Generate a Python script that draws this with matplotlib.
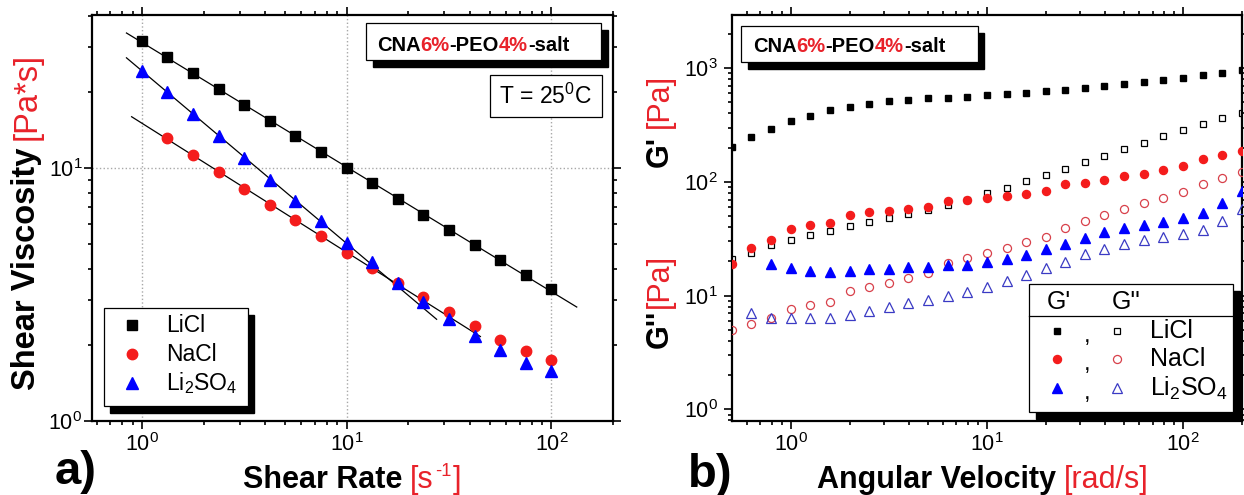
import matplotlib
matplotlib.use('Agg')
import matplotlib.pyplot as plt
import matplotlib.transforms as mtransforms
from matplotlib.patches import Rectangle
from matplotlib.ticker import NullFormatter
import numpy as np

plt.rcParams['font.family'] = 'Liberation Sans'
plt.rcParams['mathtext.fontset'] = 'custom'
plt.rcParams['mathtext.rm'] = 'Liberation Sans'
plt.rcParams['mathtext.it'] = 'Liberation Sans:italic'
plt.rcParams['mathtext.bf'] = 'Liberation Sans:bold'

RED = '#e8222a'
MRED = '#f41c1c'
BLUE = '#0000ff'
ORED = '#d8404a'
OBLUE = '#3a3ac4'

# ---- a) steady shear viscosity
rate = [1, 1.33, 1.78, 2.37, 3.16, 4.22, 5.62, 7.5, 10, 13.3, 17.8,
        23.7, 31.6, 42.2, 56.2, 75, 100]
eta_licl = [31.8, 27.5, 23.7, 20.5, 17.8, 15.4, 13.4, 11.6, 10.0, 8.72,
            7.52, 6.54, 5.67, 4.95, 4.32, 3.79, 3.32]
rate_nacl = rate[1:]
eta_nacl = [13.2, 11.3, 9.62, 8.28, 7.12, 6.21, 5.37, 4.63, 4.03, 3.51,
            3.09, 2.70, 2.37, 2.10, 1.90, 1.75]
eta_li2so4 = [24.3, 20.0, 16.4, 13.4, 11.0, 9.0, 7.43, 6.15, 5.07, 4.25,
              3.52, 2.95, 2.52, 2.16, 1.91, 1.70, 1.58]

# ---- b) oscillatory moduli
omega = [0.5, 0.63, 0.79, 1.0, 1.26, 1.58, 2.0, 2.51, 3.16, 3.98, 5.01,
         6.31, 7.94, 10, 12.6, 15.8, 20, 25.1, 31.6, 39.8, 50.1, 63.1,
         79.4, 100, 126, 158, 200]
gp_licl = [201, 247, 294, 342, 384, 426, 459, 481, 515, 526, 544, 552, 563,
           583, 595, 611, 637, 650, 673, 696, 721, 756, 782, 815, 866, 915, 972]
gpp_licl = [21.2, 23.5, 27.9, 30.9, 34.4, 37.1, 40.8, 44.4, 47.9, 52.3, 56.8,
            63.3, 69, 79.8, 89, 101, 115, 131, 151, 170, 195, 219, 252, 288,
            324, 364, 406]
gp_nacl = [19.1, 26.2, 30.9, 38.4, 41.7, 43.5, 51.5, 54.1, 56, 57.5, 60.7,
           67.8, 69.7, 72.1, 75.1, 78.8, 83.2, 95.3, 98.7, 105, 112, 118, 127,
           138, 158, 174, 188]
gpp_nacl = [4.98, 5.6, 6.3, 7.7, 8.3, 8.8, 11.0, 12.0, 13.0, 14.2, 15.7, 19.3,
            21.5, 23.8, 26.3, 29.5, 32.6, 39.7, 45.6, 51.2, 57.9, 65, 72.6,
            81.5, 96.6, 109, 123]
gp_li2so4 = [np.nan, np.nan, 18.8, 17.6, 16.4, 16.0, 16.5, 17.0, 17.3, 17.7,
             17.9, 18.5, 18.7, 19.7, 20.9, 22.7, 25.7, 28.6, 32.4, 36.4, 39,
             41.7, 44.7, 48.1, 53.7, 65, 83]
gpp_li2so4 = [np.nan, 6.99, 6.31, 6.39, 6.31, 6.31, 6.75, 7.37, 7.89, 8.56,
              9.15, 9.93, 10.8, 12.0, 13.4, 15.2, 17.4, 19.9, 23.2, 25.5, 28.3,
              30.7, 32.8, 34.7, 37.9, 45.6, 58]

W, H = 1244, 495
fig = plt.figure(figsize=(W / 100, H / 100), dpi=100)
axa = fig.add_axes([92 / W, 74 / H, 521 / W, 406 / H])
axb = fig.add_axes([732 / W, 74 / H, 510 / W, 406 / H])


def style(ax, ypad):
    ax.set_xscale('log')
    ax.set_yscale('log')
    for s in ax.spines.values():
        s.set_linewidth(1.6)
    ax.tick_params(which='both', direction='out', top=True, right=True,
                   labelsize=15.5, width=1.2)
    ax.tick_params(which='major', length=5.5)
    ax.tick_params(which='minor', length=3)
    ax.tick_params(axis='x', pad=3.5)
    ax.tick_params(axis='y', pad=ypad)
    ax.xaxis.set_minor_formatter(NullFormatter())
    ax.yaxis.set_minor_formatter(NullFormatter())


def color_text(x, y, parts, transform, rotation=0, fontsize=12, **kw):
    """Draw consecutive text pieces; each part is
    (text, colour, weight[, size factor, rise in px, gap after in px])."""
    renderer = fig.canvas.get_renderer()
    shift = 0.0
    for part in parts:
        s, color, weight = part[:3]
        scale, rise, gap = (list(part[3:]) + [1.0, 0.0, 0.0][len(part) - 3:])
        if rotation == 90:
            trans = mtransforms.offset_copy(transform, x=-rise, y=shift,
                                            units='dots')
        else:
            trans = mtransforms.offset_copy(transform, x=shift, y=rise,
                                            units='dots')
        t = fig.text(x, y, s, color=color, fontweight=weight,
                     fontsize=fontsize * scale, rotation=rotation,
                     transform=trans, **kw)
        ext = t.get_window_extent(renderer)
        shift += (ext.height if rotation == 90 else ext.width) + gap


def panel_box(ax, x0, y0, x1, y1, shadow=True, dx=0.012, dy=0.017):
    if shadow:
        ax.add_patch(Rectangle((x0 + dx, y0 - dy), x1 - x0, y1 - y0,
                               transform=ax.transAxes, fc='k', ec='k',
                               zorder=5, clip_on=False))
    ax.add_patch(Rectangle((x0, y0), x1 - x0, y1 - y0, transform=ax.transAxes,
                           fc='white', ec='k', lw=0.9, zorder=6, clip_on=False))


salt_parts = [('CNA', 'k', 'bold'), ('6%', RED, 'bold'), ('-PEO', 'k', 'bold'),
              ('4%', RED, 'bold'), ('-salt', 'k', 'bold')]

# ================= panel a =================
style(axa, 1.5)
axa.set_xlim(0.57, 200)
axa.set_ylim(1, 40.3)
axa.grid(True, which='major', ls=':', color='#a8a8a8', lw=1.0)

fits = [(rate, eta_licl, 0, 17, 0.84, 133),
        (rate_nacl, eta_nacl, 0, 10, 0.89, 45),
        (rate, eta_li2so4, 0, 9, 0.84, 27.5)]
for xs, ys, i0, i1, lo, hi in fits:
    p = np.polyfit(np.log10(xs[i0:i1]), np.log10(ys[i0:i1]), 1)
    xx = np.logspace(np.log10(lo), np.log10(hi), 60)
    axa.plot(xx, 10 ** np.polyval(p, np.log10(xx)), color='k', lw=0.9,
             zorder=2)

axa.plot(rate, eta_licl, 's', color='k', ms=7, zorder=3)
axa.plot(rate_nacl, eta_nacl, 'o', color=MRED, ms=7.5, zorder=3)
axa.plot(rate, eta_li2so4, '^', color=BLUE, ms=8.5, zorder=4)

# legend
panel_box(axa, 0.023, 0.037, 0.299, 0.278)
leg_rows = [('s', 'k', 7, 'LiCl'), ('o', MRED, 7.5, 'NaCl'),
            ('^', BLUE, 8.5, 'Li$_2$SO$_4$')]
for (m, c, ms, lab), yy in zip(leg_rows, [0.236, 0.165, 0.094]):
    axa.plot([0.077], [yy], m, color=c, ms=ms, transform=axa.transAxes,
             zorder=7, clip_on=False)
    axa.text(0.142, yy, lab, fontsize=16.5, va='center', ha='left',
             transform=axa.transAxes, zorder=7)

panel_box(axa, 0.526, 0.889, 0.977, 0.980, dx=0.013, dy=0.017)
color_text(0.547, 0.912, salt_parts, axa.transAxes, fontsize=14.5,
           va='baseline', ha='left', zorder=7)
panel_box(axa, 0.764, 0.749, 0.979, 0.852, shadow=False)
axa.text(0.871, 0.800, 'T = 25$^0$C', fontsize=16.5, ha='center',
         va='center', transform=axa.transAxes, zorder=7)

# ================= panel b =================
style(axb, 4.5)
axb.set_xlim(0.502, 200)
axb.set_ylim(0.79, 2940)

axb.plot(omega, gp_licl, 's', color='k', ms=5, zorder=3)
axb.plot(omega, gpp_licl, 's', mfc='none', mec='k', mew=0.9, ms=5, zorder=3)
axb.plot(omega, gp_nacl, 'o', color=MRED, ms=5.8, zorder=3)
axb.plot(omega, gpp_nacl, 'o', mfc='none', mec=ORED, mew=0.9, ms=5.8,
         zorder=3)
axb.plot(omega, gp_li2so4, '^', color=BLUE, ms=6.5, zorder=3)
axb.plot(omega, gpp_li2so4, '^', mfc='none', mec=OBLUE, mew=0.9, ms=6.5,
         zorder=3)

panel_box(axb, 0.018, 0.884, 0.482, 0.973, dx=0.013, dy=0.017)
color_text(0.041, 0.909, salt_parts, axb.transAxes, fontsize=14.5,
           va='baseline', ha='left', zorder=7)

# legend with G' / G'' header
panel_box(axb, 0.582, 0.022, 0.982, 0.337, dx=0.014, dy=0.017)
axb.plot([0.582, 0.982], [0.259, 0.259], color='k', lw=0.9,
         transform=axb.transAxes, zorder=7, clip_on=False)
axb.text(0.618, 0.293, "G'", fontsize=18, ha='left', va='center',
         transform=axb.transAxes, zorder=7)
axb.text(0.745, 0.293, "G''", fontsize=18, ha='left', va='center',
         transform=axb.transAxes, zorder=7)
rows_b = [('s', 'k', 'k', 5, 'LiCl'), ('o', MRED, ORED, 5.8, 'NaCl'),
          ('^', BLUE, OBLUE, 6.5, 'Li$_2$SO$_4$')]
for (m, cf, co, ms, lab), yy in zip(rows_b, [0.222, 0.152, 0.081]):
    axb.plot([0.637], [yy], m, color=cf, ms=ms, transform=axb.transAxes,
             zorder=7, clip_on=False)
    axb.text(0.696, yy - 0.012, ',', fontsize=17, ha='center', va='center',
             transform=axb.transAxes, zorder=7)
    axb.plot([0.755], [yy], m, mfc='none', mec=co, mew=0.9, ms=ms,
             transform=axb.transAxes, zorder=7, clip_on=False)
    axb.text(0.820, yy, lab, fontsize=18, ha='left', va='center',
             transform=axb.transAxes, zorder=7)

# ================= axis titles =================
fs = 22
color_text(243 / W, 7 / H,
           [('Shear Rate', 'k', 'bold', 1.0, 0, 8),
            ('[s', RED, 'normal', 1.0, 0, 1),
            ('-1', RED, 'normal', 0.6, 12, 1),
            (']', RED, 'normal')],
           fig.transFigure, fontsize=fs, ha='left', va='baseline')
color_text(27 / W, 105 / H,
           [('Shear Viscosity', 'k', 'bold', 1.07, 0, 8),
            ('[Pa*s]', RED, 'normal', 1.07)],
           fig.transFigure, rotation=90, fontsize=fs, ha='center',
           va='bottom')
color_text(817 / W, 7 / H,
           [('Angular Velocity', 'k', 'bold', 1.0, 0, 8),
            ('[rad/s]', RED, 'normal')],
           fig.transFigure, fontsize=fs, ha='left', va='baseline')
color_text(660 / W, 328 / H,
           [("G'", 'k', 'bold', 1.0, 0, 8), ('[Pa]', RED, 'normal')],
           fig.transFigure, rotation=90, fontsize=fs, ha='center',
           va='bottom')
color_text(660 / W, 147 / H,
           [("G''", 'k', 'bold', 1.0, 0, 2), ('[Pa]', RED, 'normal')],
           fig.transFigure, rotation=90, fontsize=fs, ha='center',
           va='bottom')

fig.text(55 / W, 11 / H, 'a)', fontsize=34, fontweight='bold',
         ha='left', va='baseline')
fig.text(688 / W, 8 / H, 'b)', fontsize=34, fontweight='bold',
         ha='left', va='baseline')

fig.savefig('out.png', dpi=100)
